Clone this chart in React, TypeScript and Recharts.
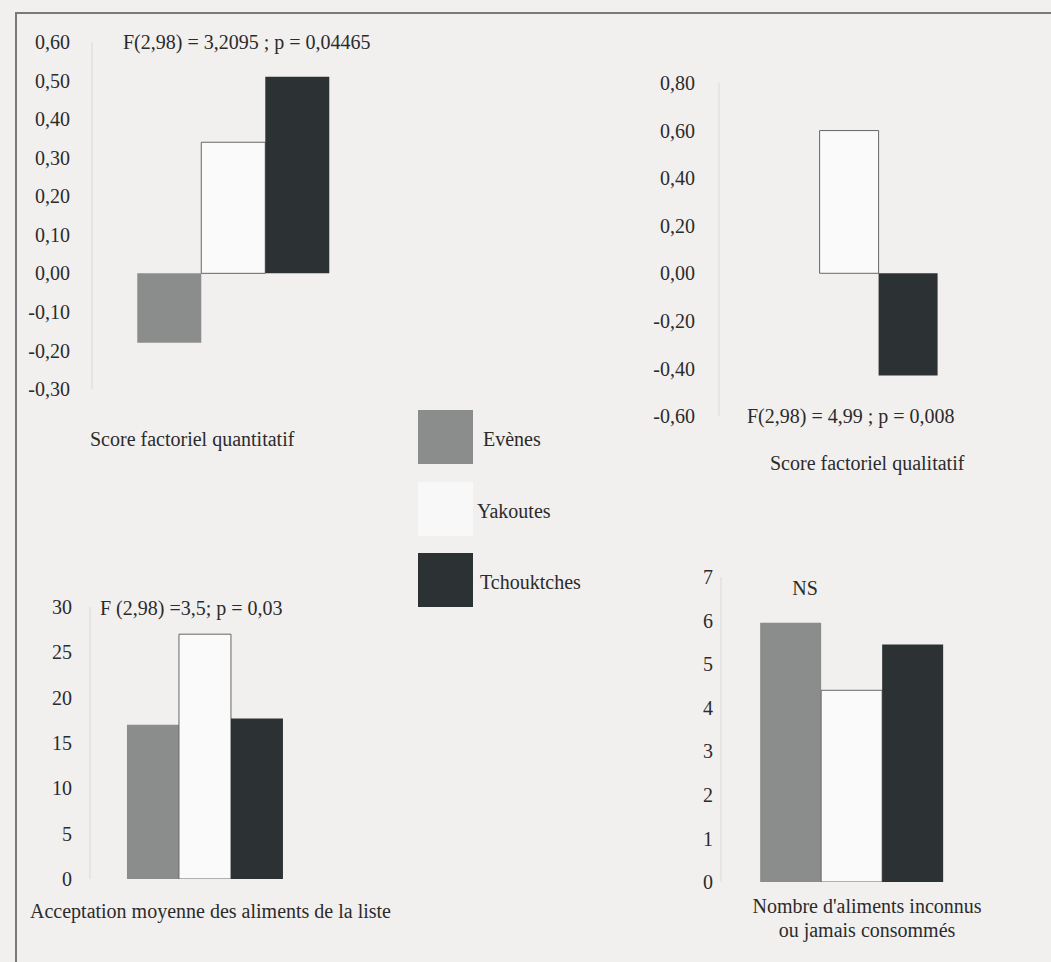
import React from "react";
import { BarChart, Bar, XAxis, YAxis } from "recharts";

// groupes ethniques (ordre des barres)
const groups = ["Evènes", "Yakoutes", "Tchouktches"];
const groupKeys = ["evenes", "yakoutes", "tchouktches"];

// valeurs
const quantValues = [-0.18, 0.34, 0.51];
const qualValues = [0.0, 0.6, -0.43];
const acceptValues = [17, 27, 17.7];
const unknownValues = [5.95, 4.4, 5.45];

const quantTicks = [-0.3, -0.2, -0.1, 0, 0.1, 0.2, 0.3, 0.4, 0.5, 0.6];
const qualTicks = [-0.6, -0.4, -0.2, 0, 0.2, 0.4, 0.6, 0.8];
const acceptTicks = [0, 5, 10, 15, 20, 25, 30];
const unknownTicks = [0, 1, 2, 3, 4, 5, 6, 7];

const FONT = "'Liberation Serif', 'DejaVu Serif', serif";
const TEXT = "#2b2b2b";
const FS = 20;

const barStyles: Record<string, { fill: string; stroke?: string; strokeWidth?: number }> = {
  evenes: { fill: "#8b8c8c" },
  yakoutes: { fill: "#fafafa", stroke: "#666", strokeWidth: 1 },
  tchouktches: { fill: "#2c3233" },
};

const toRow = (values: number[]) => {
  const row: Record<string, number | string> = { name: "" };
  groupKeys.forEach((k, i) => (row[k] = values[i]));
  return [row];
};

const decimal = (v: number) => v.toFixed(2).replace(".", ",");
const integer = (v: number) => String(v);

type PanelProps = {
  left: number;
  top: number;
  width: number;
  height: number;
  margin: { top: number; right: number; bottom: number; left: number };
  yWidth: number;
  tickGap: number;
  domain: [number, number];
  ticks: number[];
  format: (v: number) => string;
  values: number[];
  gap: string;
};

const Panel = (p: PanelProps) => (
  <div style={{ position: "absolute", left: p.left, top: p.top }}>
    <BarChart
      width={p.width}
      height={p.height}
      data={toRow(p.values)}
      margin={p.margin}
      barGap={0}
      barCategoryGap={p.gap}
    >
      <XAxis dataKey="name" hide />
      <YAxis
        type="number"
        width={p.yWidth}
        domain={p.domain}
        ticks={p.ticks}
        interval={0}
        allowDataOverflow
        tickFormatter={p.format}
        tickLine={false}
        tickSize={0}
        tickMargin={p.tickGap}
        axisLine={{ stroke: "#d9d9d9" }}
        tick={{ fill: TEXT, fontSize: FS, fontFamily: FONT }}
      />
      {groupKeys.map((k) => (
        <Bar key={k} dataKey={k} isAnimationActive={false} {...barStyles[k]} />
      ))}
    </BarChart>
  </div>
);

const Note = ({ x, y, children, align = "left" }: { x: number; y: number; children: React.ReactNode; align?: "left" | "center" }) => (
  <div
    style={{
      position: "absolute",
      left: x,
      top: y,
      transform: align === "center" ? "translate(-50%, -50%)" : "translateY(-50%)",
      fontFamily: FONT,
      fontSize: FS,
      color: TEXT,
      whiteSpace: "nowrap",
      textAlign: "center",
      lineHeight: "24px",
    }}
  >
    {children}
  </div>
);

const swatchTops = [410, 482, 553];
const swatchColors = ["#8b8c8c", "#f8f8f8", "#2c3233"];
const legendTextX = [483, 477, 480];

export default function App() {
  return (
    <div
      style={{
        position: "absolute",
        left: 0,
        top: 0,
        width: 1051,
        height: 962,
        background: "#f1f0ef",
        overflow: "hidden",
      }}
    >
      {/* cadre */}
      <div style={{ position: "absolute", left: 15, top: 12, width: 1040, height: 2, background: "#7a7a7a" }} />
      <div style={{ position: "absolute", left: 15, top: 12, width: 2, height: 960, background: "#7a7a7a" }} />

      <Panel
        left={0}
        top={0}
        width={380}
        height={405}
        margin={{ top: 42, right: 5, bottom: 16, left: 0 }}
        yWidth={92}
        tickGap={22}
        domain={[-0.3, 0.6]}
        ticks={quantTicks}
        format={decimal}
        values={quantValues}
        gap="16%"
      />
      <Note x={123} y={42}>F(2,98) = 3,2095 ; p = 0,04465</Note>
      <Note x={90} y={439}>Score factoriel quantitatif</Note>

      <Panel
        left={600}
        top={0}
        width={384}
        height={432}
        margin={{ top: 83, right: 5, bottom: 16, left: 0 }}
        yWidth={119}
        tickGap={24}
        domain={[-0.6, 0.8]}
        ticks={qualTicks}
        format={decimal}
        values={qualValues}
        gap="16%"
      />
      <Note x={747} y={416}>F(2,98) = 4,99 ; p = 0,008</Note>
      <Note x={770} y={463}>Score factoriel qualitatif</Note>

      <Panel
        left={0}
        top={560}
        width={326}
        height={336}
        margin={{ top: 47, right: 5, bottom: 17, left: 0 }}
        yWidth={90}
        tickGap={18}
        domain={[0, 30]}
        ticks={acceptTicks}
        format={integer}
        values={acceptValues}
        gap="16%"
      />
      <Note x={100} y={608}>F (2,98) =3,5; p = 0,03</Note>
      <Note x={30} y={911}>Acceptation moyenne des aliments de la liste</Note>

      <Panel
        left={600}
        top={560}
        width={387}
        height={340}
        margin={{ top: 17, right: 5, bottom: 18, left: 0 }}
        yWidth={121}
        tickGap={8}
        domain={[0, 7]}
        ticks={unknownTicks}
        format={integer}
        values={unknownValues}
        gap="15%"
      />
      <Note x={805} y={588} align="center">NS</Note>
      <Note x={867} y={918} align="center">
        Nombre d'aliments inconnus
        <br />
        ou jamais consommés
      </Note>

      {/* légende */}
      {groups.map((g, i) => (
        <React.Fragment key={g}>
          <div
            style={{
              position: "absolute",
              left: 418,
              top: swatchTops[i],
              width: 55,
              height: 54,
              background: swatchColors[i],
            }}
          />
          <Note x={legendTextX[i]} y={swatchTops[i] + 29}>
            {g}
          </Note>
        </React.Fragment>
      ))}
    </div>
  );
}
